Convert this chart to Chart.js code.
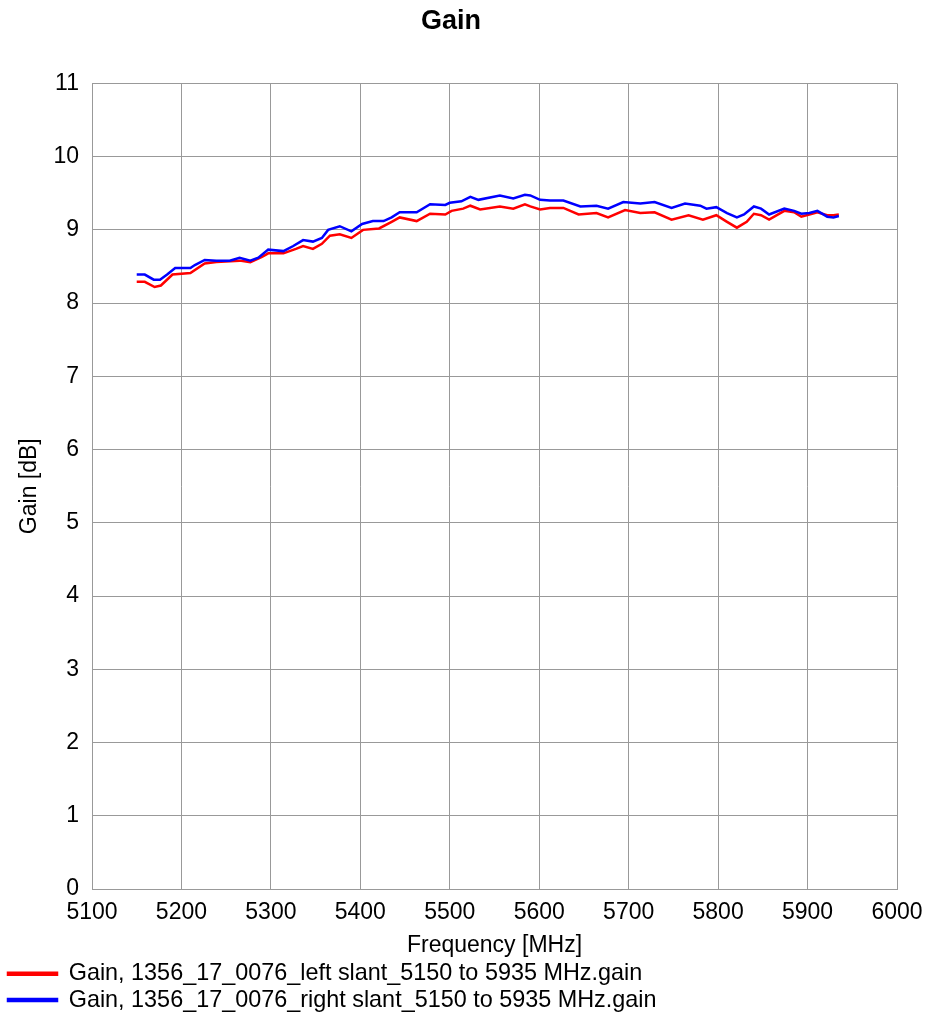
<!DOCTYPE html>
<html>
<head>
<meta charset="utf-8">
<script src="https://cdn.jsdelivr.net/npm/chart.js@4/dist/chart.umd.min.js"></script>
<style>
  html, body { margin: 0; padding: 0; background: #fff; }
  #wrap { width: 928px; height: 1013px; }
</style>
</head>
<body>
<div id="wrap"><canvas id="chart"></canvas></div>
<script>
// left slant (red) - frequency (MHz) and gain (dB)
const leftFreq = [5150, 5159, 5170, 5177, 5190, 5210, 5226, 5239, 5265, 5277, 5290, 5297, 5314, 5328, 5336, 5347,
  5357, 5366, 5377, 5390, 5403, 5421, 5435, 5444, 5463, 5478, 5495, 5502, 5515, 5523, 5534, 5556,
  5571, 5584, 5590, 5601, 5612, 5627, 5644, 5664, 5677, 5696, 5713, 5729, 5748, 5767, 5783, 5798,
  5810, 5821, 5832, 5840, 5848, 5857, 5874, 5885, 5893, 5902, 5911, 5922, 5929, 5935];
const leftGain = [8.29, 8.29, 8.22, 8.24, 8.39, 8.41, 8.54, 8.56, 8.58, 8.56, 8.63, 8.68, 8.68, 8.74, 8.78, 8.74,
  8.81, 8.92, 8.94, 8.89, 9.00, 9.02, 9.11, 9.17, 9.12, 9.22, 9.21, 9.26, 9.29, 9.33, 9.28, 9.32,
  9.29, 9.35, 9.32, 9.28, 9.30, 9.30, 9.21, 9.23, 9.17, 9.27, 9.23, 9.24, 9.14, 9.20, 9.14, 9.20,
  9.11, 9.03, 9.11, 9.22, 9.20, 9.14, 9.26, 9.24, 9.18, 9.21, 9.24, 9.20, 9.20, 9.21];

// right slant (blue)
const rightFreq = [5150, 5159, 5169, 5176, 5184, 5193, 5210, 5215, 5226, 5239, 5254, 5265, 5277, 5286, 5297, 5314,
  5325, 5336, 5347, 5357, 5364, 5377, 5390, 5402, 5414, 5426, 5435, 5444, 5463, 5478, 5495, 5500,
  5513, 5523, 5532, 5556, 5571, 5584, 5590, 5601, 5612, 5627, 5646, 5664, 5677, 5694, 5713, 5729,
  5748, 5763, 5780, 5787, 5798, 5810, 5821, 5829, 5840, 5848, 5857, 5874, 5885, 5893, 5902, 5911,
  5922, 5929, 5935];
const rightGain = [8.39, 8.39, 8.32, 8.32, 8.39, 8.48, 8.48, 8.52, 8.59, 8.58, 8.58, 8.62, 8.58, 8.62, 8.73, 8.71,
  8.78, 8.86, 8.84, 8.89, 9.00, 9.05, 8.98, 9.08, 9.12, 9.12, 9.17, 9.24, 9.24, 9.35, 9.34, 9.37,
  9.39, 9.45, 9.41, 9.47, 9.43, 9.48, 9.47, 9.41, 9.40, 9.40, 9.32, 9.33, 9.29, 9.38, 9.36, 9.38,
  9.30, 9.36, 9.33, 9.29, 9.31, 9.23, 9.17, 9.21, 9.32, 9.29, 9.21, 9.29, 9.26, 9.22, 9.23, 9.26,
  9.18, 9.17, 9.19];

const seriesNames = [
  'Gain, 1356_17_0076_left slant_5150 to 5935 MHz.gain',
  'Gain, 1356_17_0076_right slant_5150 to 5935 MHz.gain'
];

const toPoints = (xs, ys) => xs.map((f, i) => ({ x: f, y: ys[i] }));

const FONT = '"Liberation Sans", Arial, sans-serif';
const gridColor = '#999999';

// blue first so it is drawn on top, legend reversed to keep red first
const data = {
  datasets: [
    {
      label: seriesNames[1],
      data: toPoints(rightFreq, rightGain),
      borderColor: '#0000ff',
      backgroundColor: '#0000ff',
      borderWidth: 2.5,
      pointRadius: 0,
      tension: 0
    },
    {
      label: seriesNames[0],
      data: toPoints(leftFreq, leftGain),
      borderColor: '#ff0000',
      backgroundColor: '#ff0000',
      borderWidth: 2.5,
      pointRadius: 0,
      tension: 0
    }
  ]
};

const config = {
  type: 'line',
  data,
  options: {
    responsive: true,
    maintainAspectRatio: false,
    animation: false,
    layout: { padding: { left: 5, right: 31, top: 0, bottom: 0 } },
    plugins: {
      title: {
        display: true,
        text: 'Gain',
        color: '#000',
        font: { family: FONT, size: 27, weight: 'bold' },
        padding: { top: 5, bottom: 46 }
      },
      legend: {
        position: 'bottom',
        align: 'start',
        reverse: true,
        maxHeight: 54,
        labels: {
          color: '#000',
          font: { family: FONT, size: 23.4 },
          boxWidth: 49,
          boxHeight: 2,
          padding: 3
        }
      },
      tooltip: { enabled: false }
    },
    scales: {
      x: {
        type: 'linear',
        min: 5100,
        max: 6000,
        ticks: {
          stepSize: 100,
          color: '#000',
          font: { family: FONT, size: 23 },
          padding: 10,
          maxRotation: 0,
          callback: (v) => String(v)
        },
        grid: { color: gridColor, drawTicks: false },
        border: { color: gridColor },
        title: {
          display: true,
          text: 'Frequency [MHz]',
          color: '#000',
          font: { family: FONT, size: 23 },
          padding: { top: 0, bottom: 0 }
        },
        afterFit: (scale) => {
          scale.height = 70;
          scale.paddingLeft = 0;
          scale.paddingRight = 0;
        }
      },
      y: {
        min: 0,
        max: 11,
        ticks: {
          stepSize: 1,
          color: '#000',
          font: { family: FONT, size: 23 },
          padding: 13
        },
        grid: { color: gridColor, drawTicks: false },
        border: { color: gridColor },
        title: {
          display: true,
          text: 'Gain [dB]',
          color: '#000',
          font: { family: FONT, size: 23 },
          padding: { top: 11, bottom: 0 }
        },
        afterFit: (scale) => { scale.width = 87; }
      }
    }
  }
};

const myChart = new Chart(document.getElementById('chart'), config);
</script>
</body>
</html>
